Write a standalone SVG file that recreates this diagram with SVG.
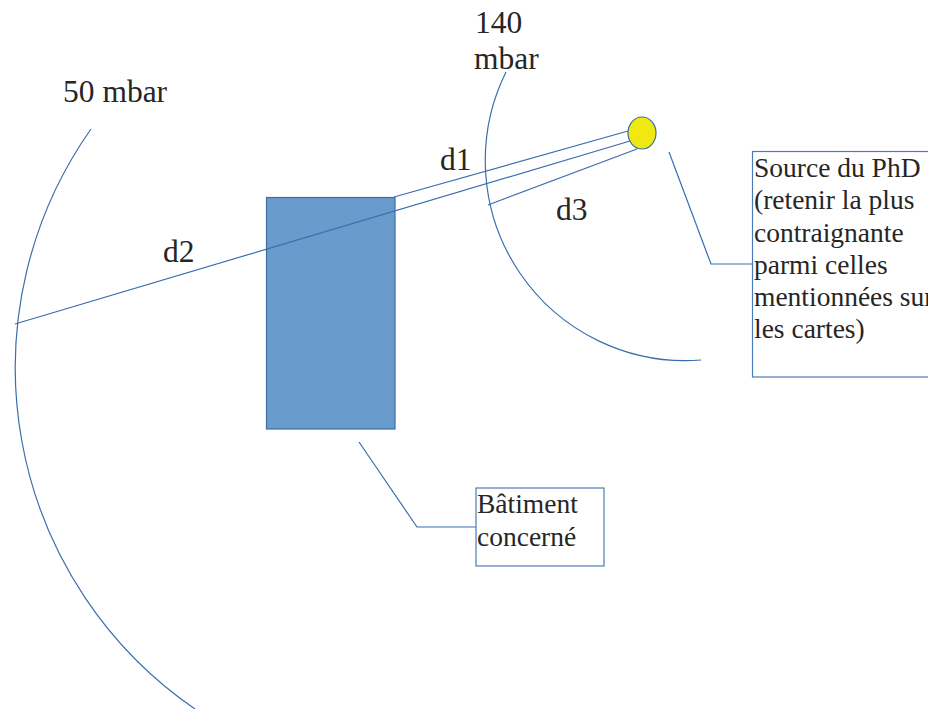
<svg xmlns="http://www.w3.org/2000/svg" width="928" height="709" viewBox="0 0 928 709">
<style>
.ln{fill:none;stroke:#3b6eae;stroke-width:1.2}
.lbl{font-family:"Liberation Serif",serif;font-size:31.5px;fill:#262626}
.bt{font-family:"Liberation Serif",serif;font-size:27.5px;fill:#262626}
.box{fill:none;stroke:#4a7cba;stroke-width:1.2}
</style>
<rect width="928" height="709" fill="#ffffff"/>
<g id="building">
<rect x="266.5" y="197.5" width="128.5" height="231.5" fill="#6a9bcd" stroke="#3b6ea5" stroke-width="1.2"/>
</g>
<g id="connectors">
<path class="ln" d="M91,129 A414,414 0 0 0 195,709"/>
<path class="ln" d="M506,72 A200,200 0 0 0 701,360"/>
<line class="ln" x1="628" y1="131" x2="394" y2="197"/>
<line class="ln" x1="630" y1="141" x2="15" y2="324"/>
<line class="ln" x1="637" y1="149" x2="488" y2="205"/>
<polyline class="ln" points="669,152 711,264 752,264"/>
<polyline class="ln" points="359,442 417,527 476,527"/>
</g>
<g id="source">
<ellipse cx="642" cy="133" rx="14" ry="16" fill="#f0e811" stroke="#3b6ea5" stroke-width="1.2"/>
</g>
<g id="label-140">
<text class="lbl" x="475" y="33">140</text>
<text class="lbl" x="474" y="69">mbar</text>
</g>
<g id="label-50">
<text class="lbl" x="63" y="102">50 mbar</text>
</g>
<g id="label-d1"><text class="lbl" x="440" y="170">d1</text></g>
<g id="label-d2"><text class="lbl" x="163" y="262">d2</text></g>
<g id="label-d3"><text class="lbl" x="556" y="220">d3</text></g>
<g id="box-source">
<rect class="box" x="752.5" y="151.5" width="190" height="225.5"/>
<text class="bt">
<tspan x="754" y="177">Source du PhD</tspan>
<tspan x="754" y="209">(retenir la plus</tspan>
<tspan x="754" y="241.5">contraignante</tspan>
<tspan x="754" y="273.5">parmi celles</tspan>
<tspan x="754" y="305.5">mentionnées sur</tspan>
<tspan x="754" y="338">les cartes)</tspan>
</text>
</g>
<g id="box-batiment">
<rect class="box" x="476" y="488" width="128" height="78"/>
<text class="bt">
<tspan x="477" y="513">Bâtiment</tspan>
<tspan x="477" y="546">concerné</tspan>
</text>
</g>
</svg>
